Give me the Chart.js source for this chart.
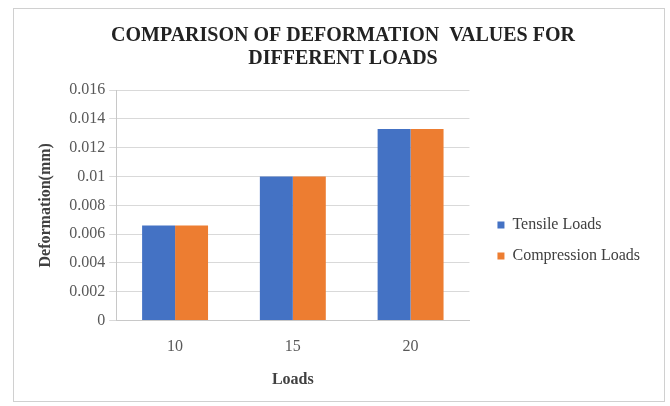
<!DOCTYPE html>
<html>
<head>
<meta charset="utf-8">
<script src="https://cdn.jsdelivr.net/npm/chart.js@4/dist/chart.umd.min.js"></script>
<style>
  body { margin: 0; background: #fff; }
  #box {
    position: absolute; left: 13px; top: 8px;
    width: 652px; height: 394px; box-sizing: border-box;
    border: 1px solid #d0d0d0; background: #fff;
  }
</style>
</head>
<body>
<div id="box"><canvas id="chart" width="650" height="392"></canvas></div>
<script>
  // categories along the x-axis
  const loads = ['10', '15', '20'];
  // bar heights
  const tensileData = [0.0066, 0.01, 0.0133];
  const compressionData = [0.0066, 0.01, 0.0133];

  const serif = 'Liberation Serif, Times New Roman, serif';

  const ctx = document.getElementById('chart');
  const deformationChart = new Chart(ctx, {
    type: 'bar',
    data: {
      labels: loads,
      datasets: [
        {
          label: 'Tensile Loads',
          data: tensileData,
          backgroundColor: '#4472C4'
        },
        {
          label: 'Compression Loads',
          data: compressionData,
          backgroundColor: '#ED7D31'
        }
      ]
    },
    options: {
      responsive: false,
      animation: false,
      categoryPercentage: 0.56,
      barPercentage: 1.0,
      layout: { padding: { left: 22, right: 14, top: 0, bottom: 0 } },
      plugins: {
        title: {
          display: true,
          text: ['COMPARISON OF DEFORMATION  VALUES FOR', 'DIFFERENT LOADS'],
          color: '#222',
          font: { family: serif, size: 20, weight: 'bold', lineHeight: 1.15 },
          padding: { top: 15, bottom: 20 }
        },
        legend: {
          position: 'right',
          align: 'start',
          maxWidth: 220,
          // empty legend title only pushes the two entries down
          title: { display: true, text: '', font: { size: 10, lineHeight: 1 }, padding: { top: 183, bottom: 0 } },
          labels: {
            color: '#404040',
            font: { family: serif, size: 16 },
            boxWidth: 7,
            boxHeight: 7,
            padding: 15
          }
        },
        tooltip: { enabled: false }
      },
      scales: {
        x: {
          grid: { display: false, drawTicks: false },
          border: { color: '#c8c8c8' },
          ticks: { color: '#595959', font: { family: serif, size: 16 }, padding: 17 },
          title: {
            display: true,
            text: 'Loads',
            color: '#404040',
            font: { family: serif, size: 16, weight: 'bold', lineHeight: 1.2 },
            padding: { top: -4, bottom: 12 }
          }
        },
        y: {
          min: 0,
          max: 0.016,
          ticks: {
            stepSize: 0.002,
            color: '#595959',
            font: { family: serif, size: 16 },
            padding: 4,
            callback: v => String(+v.toFixed(3))
          },
          grid: { color: '#d9d9d9', tickLength: 7 },
          border: { color: '#c8c8c8' },
          title: {
            display: true,
            text: 'Deformation(mm)',
            color: '#404040',
            font: { family: serif, size: 16, weight: 'bold', lineHeight: 1.2 },
            padding: { top: 0, bottom: 10 }
          }
        },
        // empty strip between plot and legend
        gap: {
          type: 'linear',
          position: 'right',
          grid: { display: false },
          border: { display: false },
          ticks: { display: false },
          afterFit: s => { s.width = 13; }
        }
      }
    }
  });
</script>
</body>
</html>
